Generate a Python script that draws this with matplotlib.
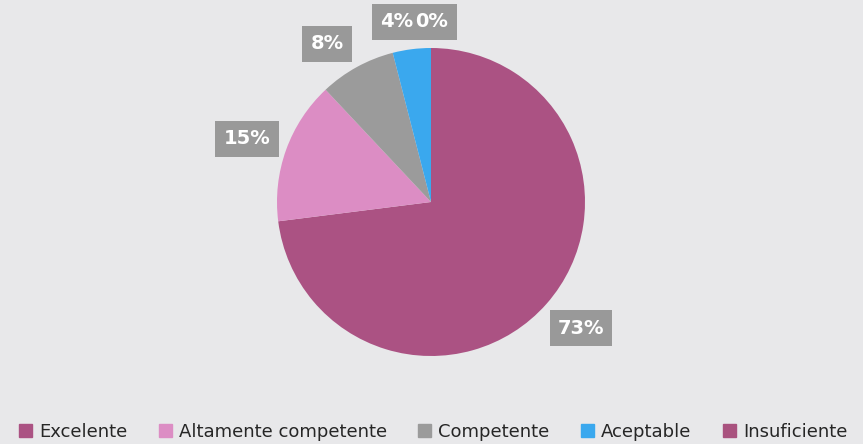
import matplotlib.pyplot as plt
from matplotlib.patches import Patch

categories = ["Excelente", "Altamente competente", "Competente", "Aceptable", "Insuficiente"]
values = [73, 15, 8, 4, 0.0]
pct_labels = ["73%", "15%", "8%", "4%", "0%"]
colors = ["#ab5283", "#dc8dc4", "#9b9b9b", "#3aa8ee", "#a9527f"]

# label positions (pixels, top-left origin)
label_pos = [(581, 328), (247, 139), (327, 44), (397, 22), (432, 22)]

bg = "#e8e8ea"
fig = plt.figure(figsize=(8.63, 4.44), dpi=100, facecolor=bg)
ax = fig.add_axes([0, 0, 1, 1])
ax.set_facecolor(bg)

H = 444
ax.pie(values, colors=colors, startangle=90, counterclock=False,
       center=(431, H - 202), radius=154,
       wedgeprops=dict(linewidth=0))
ax.set_xlim(0, 863)
ax.set_ylim(0, H)
ax.set_axis_off()

# boxes first, then the text on top so overlapping labels stay readable
for (x, y), t in zip(label_pos, pct_labels):
    ax.text(x, H - y, t, ha="center", va="center", color="none",
            fontsize=14, fontweight="bold", zorder=5,
            bbox=dict(boxstyle="square,pad=0.42", fc="#999999", ec="none"))
for (x, y), t in zip(label_pos, pct_labels):
    ax.text(x, H - y, t, ha="center", va="center", color="white",
            fontsize=14, fontweight="bold", zorder=6)

handles = [Patch(color=c) for c in colors]
leg = fig.legend(handles, categories, loc="center", bbox_to_anchor=(0.502, 1 - 432 / H),
                 ncol=5, frameon=False, fontsize=13, handlelength=0.7,
                 handleheight=0.7, handletextpad=0.4, columnspacing=1.75)
for txt in leg.get_texts():
    txt.set_color("#262626")

fig.savefig("out.png", dpi=100, facecolor=bg)
